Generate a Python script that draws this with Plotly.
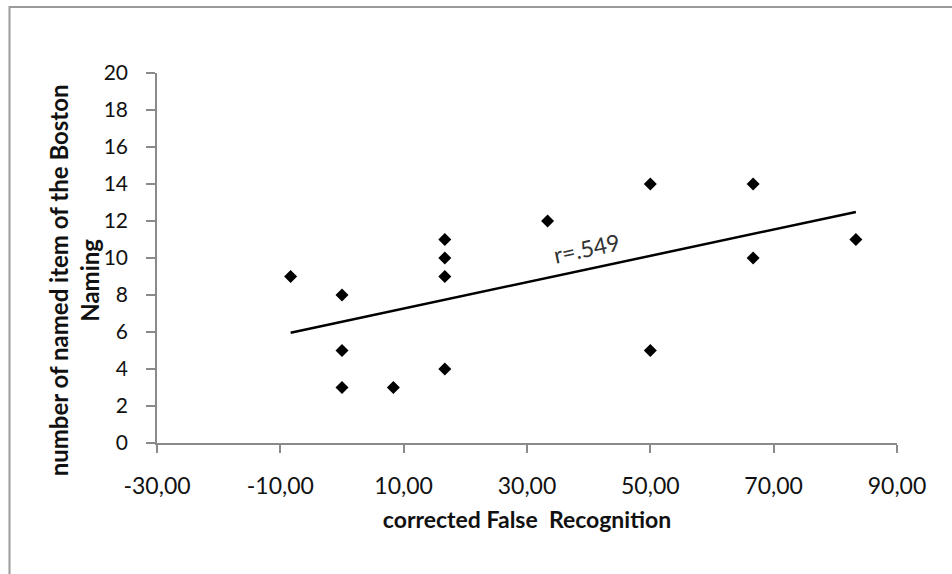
import numpy as np
import plotly.graph_objects as go

# Data
false_recognition = [-8.33, 0, 0, 0, 8.33, 16.67, 16.67, 16.67, 16.67, 33.33, 50, 50, 66.67, 66.67, 83.33]
boston_naming = [9, 8, 5, 3, 3, 11, 10, 9, 4, 12, 14, 5, 14, 10, 11]

x_tick_vals = [-30, -10, 10, 30, 50, 70, 90]
x_tick_text = ["-30,00", "-10,00", "10,00", "30,00", "50,00", "70,00", "90,00"]
y_tick_vals = [0, 2, 4, 6, 8, 10, 12, 14, 16, 18, 20]

r_label = "r=.549"

xs = np.array(false_recognition, dtype=float)
ys = np.array(boston_naming, dtype=float)
slope, intercept = np.polyfit(xs, ys, 1)
line_x = [xs.min(), xs.max()]
line_y = [slope * v + intercept for v in line_x]

FONT = "Lato"
AXIS_COLOR = "#8a8a8a"

fig = go.Figure()
fig.add_trace(go.Scatter(
    x=false_recognition, y=boston_naming, mode="markers",
    marker=dict(symbol="diamond", size=10, color="black"),
    showlegend=False, hoverinfo="x+y",
))
fig.add_trace(go.Scatter(
    x=line_x, y=line_y, mode="lines",
    line=dict(color="black", width=2.5),
    showlegend=False, hoverinfo="skip",
))

fig.update_layout(
    width=952, height=574,
    margin=dict(l=157, r=55, t=73, b=131),
    paper_bgcolor="white", plot_bgcolor="white",
    font=dict(family=FONT, color="#111111"),
    xaxis=dict(
        range=[-30, 90], tickvals=x_tick_vals, ticktext=x_tick_text,
        showgrid=False, zeroline=False, showline=True,
        linecolor=AXIS_COLOR, linewidth=1.5,
        ticks="outside", ticklen=8, tickcolor=AXIS_COLOR, tickwidth=1.5,
        tickfont=dict(family=FONT, size=23, color="#111111"),
        ticklabelstandoff=14,
        title=dict(text="<b>corrected False  Recognition</b>",
                   font=dict(family=FONT, size=23, color="#111111"), standoff=14),
    ),
    yaxis=dict(
        range=[0, 20], tickvals=y_tick_vals,
        showgrid=False, zeroline=False, showline=True,
        linecolor=AXIS_COLOR, linewidth=1.5,
        ticks="outside", ticklen=9, tickcolor=AXIS_COLOR, tickwidth=1.5,
        tickfont=dict(family=FONT, size=21, color="#111111"),
        ticklabelstandoff=14,
    ),
    annotations=[
        dict(text="<b>number of named item of the Boston<br>Naming</b>",
             xref="paper", yref="paper", x=-0.112, y=0.44,
             textangle=-90, showarrow=False,
             font=dict(family=FONT, size=24, color="#111111"),
             xanchor="center", yanchor="middle"),
        dict(text=r_label, x=39.7, y=10.55, xref="x", yref="y",
             textangle=-12, showarrow=False,
             font=dict(family=FONT, size=23, color="#333333")),
    ],
    shapes=[
        dict(type="rect", xref="paper", yref="paper",
             x0=(9.5 - 157) / 740, x1=(965 - 157) / 740,
             y0=(443 - 600) / 370, y1=(443 - 7) / 370,
             line=dict(color="#9a9a9a", width=2), layer="below"),
    ],
)

fig.write_html("out.html")
